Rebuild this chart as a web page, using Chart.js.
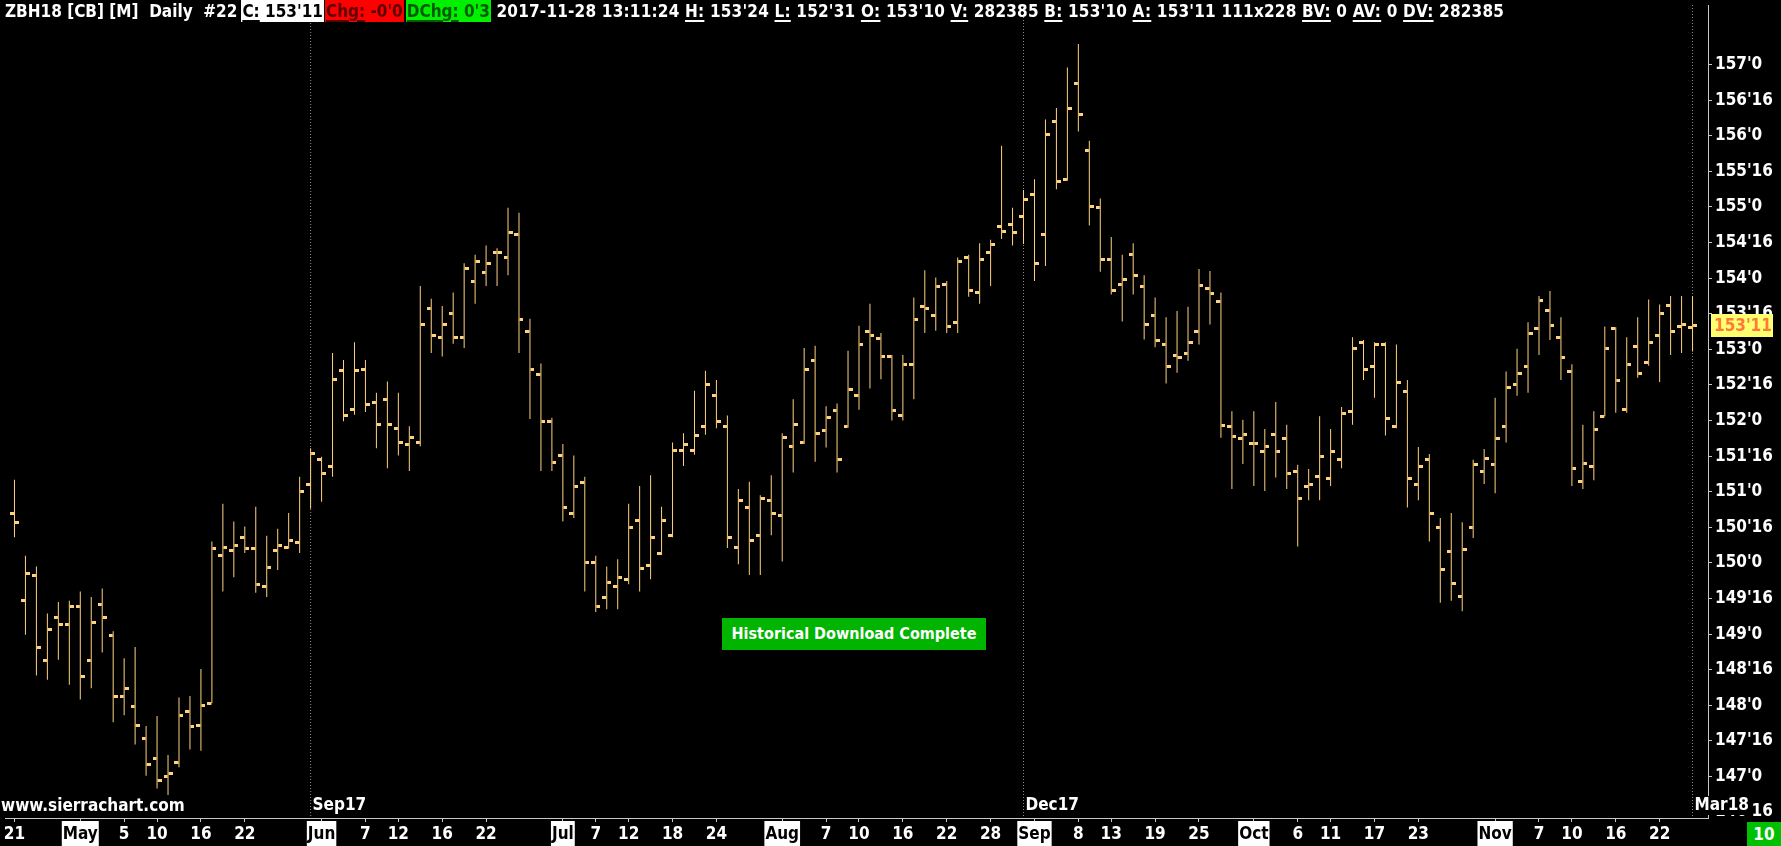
<!DOCTYPE html>
<html>
<head>
<meta charset="utf-8">
<title>ZBH18 Daily</title>
<script src="https://cdn.jsdelivr.net/npm/chart.js@4.4.0/dist/chart.umd.min.js"></script>
<style>
  html, body { margin: 0; padding: 0; background: #000; overflow: hidden; }
  #wrap { position: relative; width: 1781px; height: 846px; }
  #chart { position: absolute; left: 0; top: 0; }
  .txt {
    position: absolute; color: #fff; white-space: pre;
    font-family: "DejaVu Sans Condensed", "DejaVu Sans", sans-serif;
    font-stretch: condensed; font-weight: bold; font-size: 17px;
  }
  #hdr { left: 5px; top: 0; height: 22px; line-height: 22px; }
  #hdr span { display: inline-block; height: 22px; }
  #hdr u { text-underline-offset: 3px; text-decoration-thickness: 2px; }
  #hdr .rest { letter-spacing: 0.2px; }
  .wbox { background: #fff; color: #000; padding: 0 1px; margin-left: 4px; }
  .rbox { background: #ff0000; color: #5a0000; padding: 0 1px; margin-left: 1px; }
  .gbox { background: #00f000; color: #005a00; padding: 0 1px; margin-left: 2px; }
  #site { left: 1px; top: 795px; font-size: 17px; }
  #dl {
    left: 722px; top: 618px; width: 264px; height: 32px; line-height: 32px;
    background: #00b400; text-align: center; font-size: 16px;
  }
  #cnt {
    left: 1747px; top: 822px; width: 34px; height: 24px; line-height: 24px;
    background: #00c000; text-align: center;
  }
</style>
</head>
<body>
<div id="wrap">
  <canvas id="chart" width="1781" height="846"></canvas>
  <div id="hdr" class="txt"></div>
  <div id="site" class="txt">www.sierrachart.com</div>
  <div id="dl" class="txt">Historical Download Complete</div>
  <div id="cnt" class="txt">10</div>
</div>
<script>
// daily bars, 21 Apr 2017 .. 28 Nov 2017 (one value per trading day)
const opens = [
  150.70, 149.47, 149.82, 148.63, 149.23, 149.13, 149.39, 148.63, 149.41, 148.98,
  148.13, 147.98, 147.54, 147.25, 147.00, 147.19, 147.91, 147.72, 148.03, 150.10,
  150.17, 150.35, 150.20, 149.67, 150.17, 150.22, 150.29, 151.10, 151.45, 151.35,
  152.70, 152.16, 152.72, 152.26, 152.29, 151.89, 151.66, 151.69, 153.58, 153.17,
  153.51, 153.17, 153.95, 154.08, 154.36, 154.29, 154.61, 153.25, 152.64, 151.98,
  151.51, 150.70, 151.13, 150.01, 149.51, 149.67, 149.76, 150.60, 149.97, 150.13,
  150.38, 151.58, 151.58, 151.91, 152.35, 151.91, 150.22, 150.78, 150.38, 150.88,
  150.67, 151.63, 151.69, 152.85, 151.86, 152.14, 151.91, 152.35, 153.25, 153.15,
  152.90, 152.07, 152.79, 153.60, 153.48, 153.91, 153.38, 154.29, 153.80, 154.36,
  154.73, 154.76, 154.86, 155.17, 154.61, 156.20, 155.39, 156.73, 155.79, 154.99,
  154.26, 153.91, 154.33, 153.88, 153.48, 153.07, 152.91, 152.94, 153.25, 153.85,
  153.67, 151.91, 151.75, 151.68, 151.56, 151.81, 151.75, 151.28, 151.07, 151.22,
  151.19, 151.45, 152.13, 153.09, 152.76, 153.07, 151.91, 152.41, 151.10, 151.45,
  150.50, 150.16, 149.53, 150.50, 151.28, 151.38, 151.91, 152.51, 152.76, 153.29,
  153.54, 153.16, 152.69, 151.15, 151.35, 152.06, 153.29, 152.16, 153.04, 152.81,
  153.19, 153.62, 153.32, 153.31
];
const highs = [
  151.17, 150.10, 149.95, 149.29, 149.45, 149.47, 149.60, 149.52, 149.64, 149.04,
  148.66, 148.82, 147.71, 147.85, 147.30, 148.11, 148.13, 148.51, 150.30, 150.83,
  150.58, 150.51, 150.79, 150.38, 150.48, 150.70, 151.21, 151.61, 151.49, 152.95,
  152.85, 153.10, 152.85, 152.39, 152.55, 152.39, 151.92, 153.89, 153.71, 153.61,
  153.80, 154.21, 154.33, 154.46, 154.42, 154.99, 154.92, 153.43, 152.80, 152.04,
  151.67, 151.51, 151.21, 150.10, 149.95, 150.05, 150.83, 151.08, 151.23, 150.79,
  151.69, 151.82, 152.42, 152.70, 152.57, 152.07, 151.04, 151.14, 150.95, 151.23,
  151.82, 152.30, 153.02, 153.05, 152.20, 152.24, 152.98, 153.33, 153.64, 153.23,
  152.92, 152.92, 153.73, 154.11, 154.01, 153.96, 154.29, 154.33, 154.49, 154.54,
  155.86, 154.99, 155.24, 155.39, 156.23, 156.39, 156.96, 157.29, 155.93, 155.12,
  154.58, 154.33, 154.49, 154.04, 153.73, 153.45, 153.54, 153.60, 154.13, 154.10,
  153.80, 152.13, 152.01, 152.13, 151.88, 152.26, 151.94, 151.38, 151.32, 152.06,
  151.88, 152.19, 153.17, 153.13, 153.10, 153.10, 153.07, 152.57, 151.63, 151.53,
  150.63, 150.70, 150.57, 151.45, 151.60, 152.32, 152.69, 153.01, 153.38, 153.75,
  153.82, 153.45, 152.79, 151.94, 152.13, 153.32, 153.31, 153.17, 153.45, 153.70,
  153.63, 153.75, 153.75, 153.75
];
const lows = [
  150.36, 148.99, 148.42, 148.36, 148.64, 148.29, 148.08, 148.24, 148.74, 147.76,
  147.86, 147.45, 147.01, 146.83, 146.74, 147.13, 147.38, 147.36, 148.03, 149.60,
  149.80, 150.14, 149.58, 149.52, 149.90, 150.20, 150.14, 150.76, 150.86, 151.21,
  151.99, 152.08, 152.12, 151.61, 151.33, 151.51, 151.29, 151.64, 152.95, 152.90,
  153.08, 153.02, 153.64, 153.89, 153.89, 154.04, 152.95, 152.02, 151.29, 151.29,
  150.58, 150.63, 149.60, 149.31, 149.35, 149.35, 149.70, 149.60, 149.77, 150.11,
  150.36, 151.36, 151.52, 151.80, 151.89, 150.21, 149.98, 149.83, 149.83, 150.39,
  150.02, 151.27, 151.67, 151.42, 151.62, 151.27, 151.90, 152.15, 152.45, 152.58,
  152.00, 152.00, 152.30, 153.23, 153.26, 153.23, 153.23, 153.74, 153.64, 153.89,
  154.55, 154.46, 154.48, 153.96, 154.17, 155.25, 155.37, 156.06, 154.74, 154.09,
  153.77, 153.39, 153.77, 153.14, 153.03, 152.52, 152.67, 152.84, 153.07, 153.35,
  151.76, 151.04, 151.39, 151.08, 151.01, 151.20, 151.04, 150.23, 150.88, 150.88,
  151.08, 151.33, 151.94, 152.57, 152.32, 151.79, 151.89, 150.78, 150.88, 150.30,
  149.44, 149.47, 149.32, 150.35, 151.11, 150.98, 151.69, 152.35, 152.39, 152.92,
  153.13, 152.57, 151.08, 151.04, 151.16, 152.06, 152.11, 152.11, 152.60, 152.77,
  152.54, 152.92, 152.95, 152.97
];
const closes = [
  150.57, 149.85, 148.81, 149.06, 149.13, 149.39, 148.41, 149.16, 149.23, 148.13,
  148.23, 147.72, 147.17, 146.94, 147.04, 147.85, 147.70, 148.00, 150.20, 150.22,
  150.25, 150.20, 149.69, 149.94, 150.25, 150.32, 151.01, 151.54, 151.26, 152.57,
  152.07, 152.70, 152.23, 151.94, 151.94, 151.69, 151.76, 153.35, 153.20, 153.35,
  153.17, 154.13, 154.23, 154.20, 154.36, 154.64, 153.42, 152.72, 151.98, 151.41,
  150.78, 151.08, 150.01, 149.39, 149.72, 149.79, 150.50, 149.92, 150.35, 150.60,
  151.58, 151.66, 151.79, 152.51, 151.98, 150.35, 150.88, 150.32, 150.91, 150.70,
  151.76, 151.94, 152.72, 151.82, 152.04, 151.45, 152.44, 153.07, 153.20, 152.90,
  152.14, 152.79, 153.42, 153.57, 153.88, 153.32, 154.23, 153.83, 154.26, 154.48,
  154.66, 154.64, 155.11, 154.20, 156.02, 155.36, 156.38, 156.30, 155.01, 154.26,
  153.83, 153.98, 154.04, 153.35, 153.13, 152.76, 152.88, 153.09, 153.90, 153.79,
  151.93, 151.78, 151.81, 151.68, 151.63, 151.56, 151.25, 150.90, 151.10, 151.50,
  151.56, 152.10, 153.01, 152.72, 153.07, 152.03, 152.53, 151.19, 151.35, 150.69,
  149.91, 149.71, 150.19, 151.38, 151.47, 151.75, 152.46, 152.66, 153.22, 153.69,
  153.34, 152.88, 151.32, 151.40, 151.88, 153.01, 152.56, 152.79, 152.66, 153.09,
  153.50, 153.25, 153.35, 153.34
];

// x axis labels (bar index -> text)
const xTickIdx = [0, 6, 10, 13, 17, 21, 28, 32, 35, 39, 43, 50, 53, 56, 60, 64, 70, 74, 77,
                  81, 85, 89, 93, 97, 100, 104, 108, 113, 117, 120, 124, 128, 135, 139, 142, 146, 150];
const xTickText = ['21', 'May', '5', '10', '16', '22', 'Jun', '7', '12', '16', '22', 'Jul', '7', '12', '18', '24', 'Aug', '7', '10',
                   '16', '22', '28', 'Sep', '8', '13', '19', '25', 'Oct', '6', '11', '17', '23', 'Nov', '7', '10', '16', '22'];
const monthNames = ['May', 'Jun', 'Jul', 'Aug', 'Sep', 'Oct', 'Nov'];

// price axis, every 16/32
const yTicks = [146.5, 147, 147.5, 148, 148.5, 149, 149.5, 150, 150.5, 151, 151.5,
                152, 152.5, 153, 153.5, 154, 154.5, 155, 155.5, 156, 156.5, 157];

// contract roll markers
const rollIdx = [27, 92, 153];
const rollText = ['Sep17', 'Dec17', 'Mar18'];

const BAR_COLOR = '#ffd27f';
const AXIS_COLOR = '#c8c8c8';
const FONT_FAMILY = "'DejaVu Sans Condensed', 'DejaVu Sans', sans-serif";

// price in 32nds: 153.34375 -> 153'11
function fmt32(v) {
    let whole = Math.floor(v);
    let frac = Math.round((v - whole) * 32);
    if (frac === 32) { whole += 1; frac = 0; }
    return whole + "'" + frac;
}

// header line
const last = closes.length - 1;
document.getElementById('hdr').innerHTML =
    'ZBH18 [CB] [M]  Daily  #22' +
    '<span class="wbox"><u>C:</u> ' + fmt32(closes[last]) + '</span>' +
    '<span class="rbox"><u>Chg:</u> -0\'0</span>' +
    '<span class="gbox"><u>DChg:</u> 0\'3</span>' +
    '<span class="rest"> 2017-11-28 13:11:24 <u>H:</u> ' + fmt32(highs[last]) + ' <u>L:</u> ' + fmt32(lows[last]) +
    ' <u>O:</u> ' + fmt32(opens[last]) + ' <u>V:</u> 282385 <u>B:</u> 153\'10 <u>A:</u> ' + fmt32(closes[last]) +
    ' 111x228 <u>BV:</u> 0 <u>AV:</u> 0 <u>DV:</u> 282385</span>';

// small open / close ticks used as point images
function tickImage(side) {
    const c = document.createElement('canvas');
    c.width = 9;
    c.height = 3;
    const g = c.getContext('2d');
    g.fillStyle = BAR_COLOR;
    g.fillRect(side === 'open' ? 0 : 5, 0, 4, 3);
    return c;
}

// roll lines, roll labels and the last price marker
const overlayPlugin = {
    id: 'overlay',
    beforeDatasetsDraw(chart) {
        const {ctx, chartArea, scales} = chart;
        ctx.save();
        ctx.strokeStyle = '#8a8a8a';
        ctx.lineWidth = 1;
        ctx.setLineDash([1, 2]);
        rollIdx.forEach(i => {
            const px = scales.x.getPixelForValue(i);
            ctx.beginPath();
            ctx.moveTo(px, chartArea.top);
            ctx.lineTo(px, chartArea.bottom);
            ctx.stroke();
        });
        ctx.restore();
    },
    afterDraw(chart) {
        const {ctx, scales} = chart;
        ctx.save();
        ctx.font = 'bold 17px ' + FONT_FAMILY;
        ctx.textBaseline = 'middle';
        rollIdx.forEach((i, k) => {
            const px = scales.x.getPixelForValue(i) + 2;
            const w = ctx.measureText(rollText[k]).width;
            ctx.fillStyle = '#000';
            ctx.fillRect(px, 796, w + 4, 19);
            ctx.fillStyle = '#fff';
            ctx.fillText(rollText[k], px, 806);
        });
        // last price box on the price axis
        const py = scales.y.getPixelForValue(closes[last]);
        ctx.fillStyle = '#ffff70';
        ctx.fillRect(1711, Math.round(py) - 11, 62, 23);
        ctx.fillStyle = '#ff7a3a';
        ctx.fillText(fmt32(closes[last]), 1714, py + 1);
        ctx.restore();
    }
};

const idx = closes.map((_, i) => i);
const yMax = 157 + 60 / 71.62;
const yMin = yMax - 818 / 71.62;
const xMin = -9.5 / 11;
const xMax = xMin + 1708 / 11;

new Chart(document.getElementById('chart'), {
    type: 'bar',
    data: {
        datasets: [
            {
                type: 'line',
                label: 'Open',
                data: idx.map(i => ({x: i, y: opens[i]})),
                showLine: false,
                pointStyle: tickImage('open'),
                pointRadius: 3
            },
            {
                type: 'line',
                label: 'Close',
                data: idx.map(i => ({x: i, y: closes[i]})),
                showLine: false,
                pointStyle: tickImage('close'),
                pointRadius: 3
            },
            {
                type: 'bar',
                label: 'Range',
                data: idx.map(i => ({x: i, y: [lows[i], highs[i]]})),
                backgroundColor: BAR_COLOR,
                borderWidth: 0,
                barThickness: 1,
                inflateAmount: 0
            }
        ]
    },
    options: {
        responsive: false,
        animation: false,
        events: [],
        layout: { padding: 0 },
        plugins: {
            legend: { display: false },
            tooltip: { enabled: false }
        },
        scales: {
            x: {
                type: 'linear',
                position: 'bottom',
                bounds: 'data',
                offset: false,
                min: xMin,
                max: xMax,
                afterBuildTicks: s => { s.ticks = xTickIdx.map(v => ({value: v})); },
                afterFit: s => { s.height = 28; s.paddingLeft = 0; s.paddingRight = 0; },
                grid: { offset: false, drawOnChartArea: false, drawTicks: true, tickLength: 4, color: AXIS_COLOR },
                border: { display: true, color: AXIS_COLOR, width: 1 },
                ticks: {
                    autoSkip: false,
                    maxRotation: 0,
                    minRotation: 0,
                    padding: 2,
                    font: { family: FONT_FAMILY, size: 17, weight: 'bold' },
                    color: ctx => monthNames.includes(xTickText[ctx.index]) ? '#000' : '#fff',
                    showLabelBackdrop: ctx => monthNames.includes(xTickText[ctx.index]),
                    backdropColor: '#fff',
                    backdropPadding: { top: 3, bottom: 3, left: 1, right: 1 },
                    callback: (v, i) => xTickText[i]
                }
            },
            y: {
                type: 'linear',
                position: 'right',
                bounds: 'data',
                min: yMin,
                max: yMax,
                afterBuildTicks: s => { s.ticks = yTicks.map(v => ({value: v})); },
                afterFit: s => { s.width = 73; s.paddingTop = 0; s.paddingBottom = 0; },
                grid: { drawOnChartArea: false, drawTicks: true, tickLength: 4, color: AXIS_COLOR },
                border: { display: true, color: AXIS_COLOR, width: 1 },
                ticks: {
                    padding: 3,
                    color: '#fff',
                    font: { family: FONT_FAMILY, size: 17, weight: 'bold' },
                    callback: v => fmt32(v)
                }
            }
        }
    },
    plugins: [overlayPlugin]
});
</script>
</body>
</html>
